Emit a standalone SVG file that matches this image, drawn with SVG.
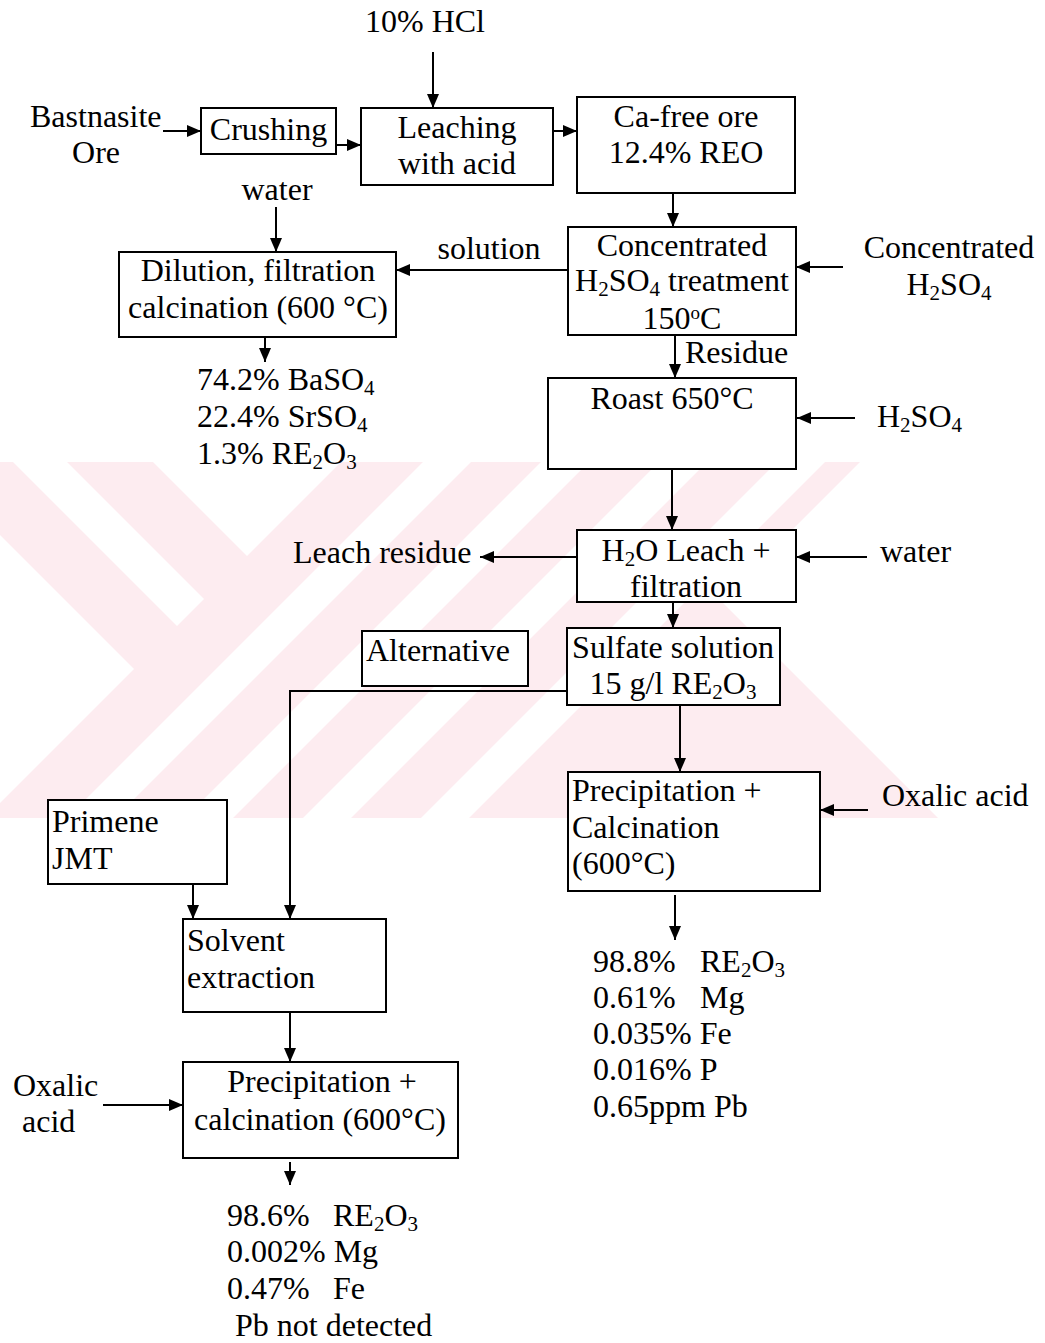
<svg xmlns="http://www.w3.org/2000/svg" width="1045" height="1343" viewBox="0 0 1045 1343">
  <style>
    text { font-family: "Liberation Serif", "Times New Roman", serif; font-size: 32px; fill: #000; }
    .m { text-anchor: middle; }
    .s { font-size: 21px; }
    .sup { font-size: 19px; }
    .box { fill: #fff; stroke: #000; stroke-width: 2; }
    .ln { fill: none; stroke: #000; stroke-width: 2; }
    .arr { marker-end: url(#ah); }
    .wm { fill: #fdecf0; }
    .wmw { fill: #fff; }
  </style>
  <defs>
    <marker id="ah" markerUnits="userSpaceOnUse" markerWidth="14" markerHeight="12" refX="14" refY="6" orient="auto">
      <path d="M0,0 L14,6 L0,12 Z" fill="#000"/>
    </marker>
  </defs>

  <rect width="1045" height="1343" fill="#fff"/>

  <!-- faint background band with striped chevrons -->
  <g id="background-band">
    <polygon class="wm" points="0,462 860,462 721,601 938,818 0,818"/>
    <polygon class="wmw" points="13,462 67,462 204,599 177,626"/>
    <polygon class="wmw" points="153,462 341,462 247,556"/>
    <polygon class="wmw" points="0,535 134,669 0,803"/>
    <polygon class="wmw" points="423,462 471,462 115,818 67,818"/>
    <polygon class="wmw" points="541,462 589,462 233,818 185,818"/>
    <polygon class="wmw" points="659,462 707,462 351,818 303,818"/>
    <polygon class="wmw" points="777,462 825,462 469,818 421,818"/>
  </g>

  <!-- connectors -->
  <g id="connectors">
    <line class="ln arr" x1="433" y1="52" x2="433" y2="108"/>
    <line class="ln arr" x1="163" y1="131" x2="201" y2="131"/>
    <line class="ln arr" x1="336" y1="145" x2="361" y2="145"/>
    <line class="ln arr" x1="553" y1="131" x2="577" y2="131"/>
    <line class="ln arr" x1="673" y1="193" x2="673" y2="227"/>
    <line class="ln arr" x1="276" y1="207" x2="276" y2="252"/>
    <line class="ln arr" x1="568" y1="270" x2="396" y2="270"/>
    <line class="ln arr" x1="843" y1="267" x2="796" y2="267"/>
    <line class="ln arr" x1="265" y1="337" x2="265" y2="362"/>
    <line class="ln arr" x1="675" y1="335" x2="675" y2="378"/>
    <line class="ln arr" x1="855" y1="418" x2="797" y2="418"/>
    <line class="ln arr" x1="672" y1="469" x2="672" y2="530"/>
    <line class="ln arr" x1="577" y1="557" x2="480" y2="557"/>
    <line class="ln arr" x1="867" y1="557" x2="796" y2="557"/>
    <line class="ln arr" x1="673" y1="602" x2="673" y2="628"/>
    <polyline class="ln arr" points="567,691 290,691 290,919"/>
    <line class="ln arr" x1="680" y1="705" x2="680" y2="772"/>
    <line class="ln arr" x1="868" y1="810" x2="820" y2="810"/>
    <line class="ln arr" x1="675" y1="895" x2="675" y2="940"/>
    <line class="ln arr" x1="193" y1="884" x2="193" y2="919"/>
    <line class="ln arr" x1="290" y1="1012" x2="290" y2="1062"/>
    <line class="ln arr" x1="103" y1="1105" x2="183" y2="1105"/>
    <line class="ln arr" x1="290" y1="1162" x2="290" y2="1185"/>
  </g>

  <!-- feeds and labels -->
  <g id="hcl"><text class="m" x="425" y="32">10% HCl</text></g>
  <g id="ore"><text x="30" y="127">Bastnasite</text><text class="m" x="96" y="163">Ore</text></g>
  <g id="water-1"><text class="m" x="277" y="200">water</text></g>
  <g id="solution-label"><text class="m" x="489" y="259">solution</text></g>
  <g id="conc-acid"><text class="m" x="949" y="258">Concentrated</text>
    <text class="m" x="949" y="295">H<tspan class="s" dy="5">2</tspan><tspan dy="-5">SO</tspan><tspan class="s" dy="5">4</tspan></text></g>
  <g id="residue-label"><text x="685" y="363">Residue</text></g>
  <g id="acid-roast"><text x="877" y="427">H<tspan class="s" dy="5">2</tspan><tspan dy="-5">SO</tspan><tspan class="s" dy="5">4</tspan></text></g>
  <g id="leach-residue"><text x="293" y="563">Leach residue</text></g>
  <g id="water-2"><text x="880" y="562">water</text></g>
  <g id="oxalic-1"><text x="882" y="806">Oxalic acid</text></g>
  <g id="oxalic-2"><text x="13" y="1096">Oxalic</text><text x="22" y="1132">acid</text></g>

  <!-- process steps -->
  <g id="crushing">
    <rect class="box" x="201" y="108" width="135" height="46"/>
    <text class="m" x="268.5" y="140">Crushing</text>
  </g>
  <g id="leaching">
    <rect class="box" x="361" y="108" width="192" height="77"/>
    <text class="m" x="457" y="138">Leaching</text>
    <text class="m" x="457" y="174">with acid</text>
  </g>
  <g id="ca-free-ore">
    <rect class="box" x="577" y="97" width="218" height="96"/>
    <text class="m" x="686" y="127">Ca-free ore</text>
    <text class="m" x="686" y="163">12.4% REO</text>
  </g>
  <g id="dilution">
    <rect class="box" x="119" y="252" width="277" height="85"/>
    <text class="m" x="258" y="281">Dilution, filtration</text>
    <text class="m" x="258" y="318">calcination (600 °C)</text>
  </g>
  <g id="acid-treatment">
    <rect class="box" x="568" y="227" width="228" height="108"/>
    <text class="m" x="682" y="256">Concentrated</text>
    <text class="m" x="682" y="291">H<tspan class="s" dy="5">2</tspan><tspan dy="-5">SO</tspan><tspan class="s" dy="5">4</tspan><tspan dy="-5"> treatment</tspan></text>
    <text class="m" x="682" y="329">150<tspan class="sup" dy="-10">o</tspan><tspan dy="10">C</tspan></text>
  </g>
  <g id="barite-product">
    <text x="197" y="390">74.2% BaSO<tspan class="s" dy="5">4</tspan></text>
    <text x="197" y="427">22.4% SrSO<tspan class="s" dy="5">4</tspan></text>
    <text x="197" y="464">1.3% RE<tspan class="s" dy="5">2</tspan><tspan dy="-5">O</tspan><tspan class="s" dy="5">3</tspan></text>
  </g>
  <g id="roast">
    <rect class="box" x="548" y="378" width="248" height="91"/>
    <text class="m" x="672" y="409">Roast 650°C</text>
  </g>
  <g id="water-leach">
    <rect class="box" x="577" y="530" width="219" height="72"/>
    <text class="m" x="686" y="561">H<tspan class="s" dy="5">2</tspan><tspan dy="-5">O Leach +</tspan></text>
    <text class="m" x="686" y="597">filtration</text>
  </g>
  <g id="alternative">
    <rect class="box" x="362" y="631" width="166" height="55"/>
    <text x="366" y="661">Alternative</text>
  </g>
  <g id="sulfate-solution">
    <rect class="box" x="567" y="628" width="213" height="77"/>
    <text class="m" x="673" y="658">Sulfate solution</text>
    <text class="m" x="673" y="694">15 g/l RE<tspan class="s" dy="5">2</tspan><tspan dy="-5">O</tspan><tspan class="s" dy="5">3</tspan></text>
  </g>
  <g id="precipitation-1">
    <rect class="box" x="568" y="772" width="252" height="119"/>
    <text x="572" y="801">Precipitation +</text>
    <text x="572" y="838">Calcination</text>
    <text x="572" y="874">(600°C)</text>
  </g>
  <g id="product-1">
    <text x="593" y="972">98.8%</text>
    <text x="700" y="972">RE<tspan class="s" dy="5">2</tspan><tspan dy="-5">O</tspan><tspan class="s" dy="5">3</tspan></text>
    <text x="593" y="1008">0.61%</text>
    <text x="700" y="1008">Mg</text>
    <text x="593" y="1044">0.035% Fe</text>
    <text x="593" y="1080">0.016% P</text>
    <text x="593" y="1117">0.65ppm Pb</text>
  </g>
  <g id="primene">
    <rect class="box" x="48" y="800" width="179" height="84"/>
    <text x="52" y="832">Primene</text>
    <text x="52" y="869">JMT</text>
  </g>
  <g id="solvent-extraction">
    <rect class="box" x="183" y="919" width="203" height="93"/>
    <text x="187" y="951">Solvent</text>
    <text x="187" y="988">extraction</text>
  </g>
  <g id="precipitation-2">
    <rect class="box" x="183" y="1062" width="275" height="96"/>
    <text class="m" x="322" y="1092">Precipitation +</text>
    <text class="m" x="320" y="1130">calcination (600°C)</text>
  </g>
  <g id="product-2">
    <text x="227" y="1226">98.6%</text>
    <text x="333" y="1226">RE<tspan class="s" dy="5">2</tspan><tspan dy="-5">O</tspan><tspan class="s" dy="5">3</tspan></text>
    <text x="227" y="1262">0.002% Mg</text>
    <text x="227" y="1299">0.47%</text>
    <text x="333" y="1299">Fe</text>
    <text x="235" y="1336">Pb not detected</text>
  </g>
</svg>
